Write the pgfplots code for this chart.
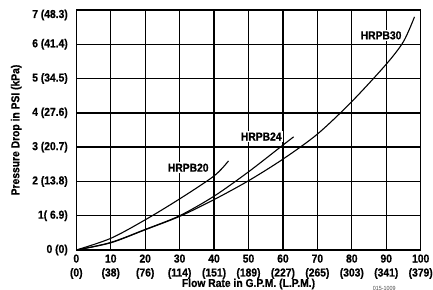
\documentclass[border=0pt]{standalone}
\usepackage{fontspec}
\setmainfont{Liberation Sans}[FakeStretch=0.9, BoldFeatures={FakeBold=0.6}]
\usepackage{pgfplots}
\pgfplotsset{compat=1.18}
\begin{document}
\begin{tikzpicture}
\useasboundingbox (-76.3bp,-40bp) rectangle (356.7bp,250bp);
\begin{axis}[
  at={(0,0)}, anchor=south west,
  scale only axis, width=344.4bp, height=240bp,
  xmin=0, xmax=100, ymin=0, ymax=7,
  xtick={0,10,...,100}, ytick={0,1,...,7},
  xticklabels={{0\\(0)},{10\\(38)},{20\\(76)},{30\\(114)},{40\\(151)},{50\\(189)},{60\\(227)},{70\\(265)},{80\\(303)},{90\\(341)},{100\\(379)}},
  yticklabels={{0 (0)},{1( 6.9)},{2 (13.8)},{3 (20.7)},{4 (27.6)},{5 (34.5)},{6 (41.4)},{\raisebox{-5bp}[\height][\depth]{7 (48.3)}}},
  grid=major, major grid style={black, line width=1.35pt},
  axis line style={line width=1.5pt},
  major tick length=0pt,
  ticklabel style={font=\bfseries\fontsize{11.5}{14}\selectfont},
  xticklabel style={align=center, yshift=-1bp},
  yticklabel style={xshift=-5bp},
  clip=false,
]
\addplot[black, line width=1.1pt, smooth] coordinates {
  (0,0) (10,0.34) (20,0.88) (30,1.49) (40,2.16) (44.2,2.6)
};
\addplot[black, line width=1.1pt, smooth] coordinates {
  (0,0) (10,0.22) (20,0.6) (30,1.0) (40,1.57) (50,2.28) (60,3.06) (63.1,3.3)
};
\addplot[black, line width=1.1pt, smooth] coordinates {
  (0,0) (10,0.21) (20,0.59) (30,0.98) (40,1.47) (50,2.02) (60,2.65) (70,3.38) (80,4.33) (90,5.42) (95,6.08) (98.2,6.8)
};
\node[fill=white, inner sep=1.5pt, font=\bfseries\fontsize{11.5}{13}\selectfont] at (axis cs:32.5,2.4) {HRPB20};
\node[fill=white, inner sep=1.5pt, font=\bfseries\fontsize{11.5}{13}\selectfont] at (axis cs:53.7,3.31) {HRPB24};
\node[fill=white, inner sep=1.5pt, font=\bfseries\fontsize{11.5}{13}\selectfont] at (axis cs:88.5,6.26) {HRPB30};
\end{axis}
\node[font=\bfseries\fontsize{11.5}{13}\selectfont] at (172.2bp,-34bp) {Flow Rate in G.P.M. (L.P.M.)};
\node[font=\bfseries\fontsize{11.5}{13}\selectfont, rotate=90] at (-60bp,120bp) {Pressure Drop in PSI (kPa)};
\node[font=\fontsize{6}{7}\selectfont, text=black!70] at (308bp,-38bp) {015-1009};
\end{tikzpicture}
\end{document}
